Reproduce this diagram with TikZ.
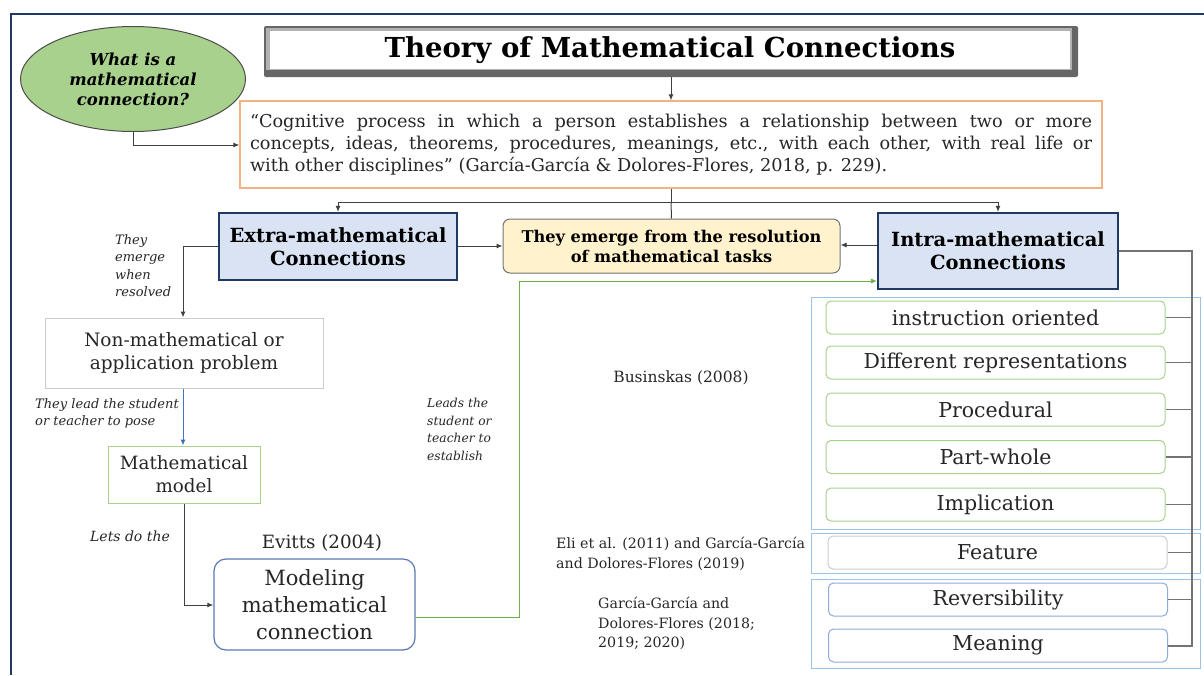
\documentclass[tikz,border=0pt]{standalone}
\usepackage{fontspec}
\setmainfont{DejaVu Serif}
\usetikzlibrary{shapes.geometric,arrows.meta}
\definecolor{navy}{HTML}{1F3864}
\definecolor{lblue}{HTML}{DAE3F3}
\definecolor{orng}{HTML}{F4B183}
\definecolor{grn}{HTML}{A9D18E}
\definecolor{grnline}{HTML}{70AD47}
\definecolor{ellfill}{HTML}{A9D18E}
\definecolor{yel}{HTML}{FFF2CC}
\definecolor{frameblue}{HTML}{9DC3E6}
\definecolor{boxblue}{HTML}{8FAADC}
\definecolor{modblue}{HTML}{5A78B0}
\definecolor{arrblue}{HTML}{4472C4}
\definecolor{txt}{HTML}{262626}
\tikzset{
  x=1pt, y=-1pt,
  tip/.style={-{Latex[length=6pt,width=5pt]}},
  conn/.style={draw=black!75, line width=1pt},
  bigbox/.style={draw=navy, line width=2.2pt, fill=lblue, align=center, inner sep=0pt,
    font=\fontsize{19.5}{23}\selectfont\bfseries},
  itembox/.style={rounded corners=5pt, line width=1pt, fill=white, minimum width=339pt,
    minimum height=33pt, inner sep=0pt, font=\fontsize{20.5}{24}\selectfont, text=txt},
  frm/.style={draw=frameblue, line width=1pt},
  lab/.style={font=\fontsize{13}{17.6}\selectfont\itshape, align=left, inner sep=0pt, anchor=north west, text=txt},
  cite/.style={font=\fontsize{14.2}{19.5}\selectfont, align=left, inner sep=0pt, text=txt},
  bus/.style={draw=black!55, line width=1.2pt}
}
\begin{document}
\begin{tikzpicture}
\useasboundingbox (0,0) rectangle (1204,675);
% outer frame
\draw[navy, line width=1.8pt] (1204,14) -- (11,14) -- (11,675);
% title
\fill[black!60, rounded corners=2pt] (264,26) rectangle (1078,77);
\fill[black!30] (266,28) rectangle (1072,70);
\node[fill=white, minimum width=800pt, minimum height=38pt, inner sep=0pt,
  font=\fontsize{27.5}{32}\selectfont\bfseries] (title) at (670,50) {Theory of Mathematical Connections};
\coordinate (tb) at (671,77);
% ellipse
\node[ellipse, draw=black!70, line width=1pt, fill=ellfill, minimum width=225pt, minimum height=105pt,
  inner sep=0pt, align=center, font=\fontsize{16.5}{20}\selectfont\bfseries\itshape] (q) at (133,79)
  {What is a\\mathematical\\connection?};
% quote
\node[draw=orng, line width=1.2pt, fill=white, minimum width=862pt, minimum height=87pt, inner sep=0pt,
  text width=842pt, align=justify, font=\fontsize{17.7}{22}\selectfont, text=txt] (def) at (671,144.5)
  {“Cognitive process in which a person establishes a relationship between two or more\linebreak
   concepts, ideas, theorems, procedures, meanings, etc., with each other, with real life or\linebreak
   with other disciplines” (García-García \& Dolores-Flores, 2018, p. 229).};
\draw[conn, tip] (tb) -- (def.north);
\draw[conn, tip] (q.south) |- (def.west |- 0,145);
% second level
\node[bigbox, minimum width=238pt, minimum height=67pt] (extra) at (338,246.5) {Extra-mathematical\\Connections};
\node[bigbox, minimum width=240pt, minimum height=76pt] (intra) at (998,251) {Intra-mathematical\\Connections};
\node[draw=black!55, line width=1pt, rounded corners=7pt, fill=yel, minimum width=337pt, minimum height=54pt,
  inner sep=0pt, align=center, font=\fontsize{16.2}{20}\selectfont\bfseries] (emerge) at (671.5,246)
  {They emerge from the resolution\\of mathematical tasks};
\coordinate (split) at (671,202);
\draw[conn] (def.south) -- (split);
\draw[conn] (split) -- (emerge.north);
\draw[conn, tip] (split) -| (extra.north);
\draw[conn, tip] (split) -| (intra.north);
\draw[conn, tip] (extra.east |- 0,246) -- (emerge.west |- 0,246);
\draw[conn, tip] (intra.west |- 0,245) -- (emerge.east |- 0,245);
% left branch
\node[draw=black!20, line width=1pt, minimum width=278pt, minimum height=70pt, inner sep=0pt, align=center,
  font=\fontsize{18.5}{23}\selectfont, text=txt] (prob) at (184,353) {Non-mathematical or\\application problem};
\node[draw=grn, line width=1pt, minimum width=152pt, minimum height=57pt, inner sep=0pt, align=center,
  font=\fontsize{18.3}{23}\selectfont, text=txt] (model) at (184,474.5) {Mathematical\\model};
\node[draw=modblue, line width=1.2pt, rounded corners=12pt, minimum width=201pt, minimum height=91pt, inner sep=0pt,
  align=center, font=\fontsize{21}{27}\selectfont, text=txt] (modeling) at (314.5,604.5) {Modeling\\mathematical\\connection};
\draw[conn, tip] (extra.west) -| (prob.north -| 183,0);
\draw[draw=arrblue, line width=1pt, -{Latex[length=6pt,width=5pt,fill=navy]}] (prob.south -| 183,0) -- (model.north -| 183,0);
\draw[conn, tip] (model.south -| 184,0) |- (modeling.west |- 0,605);
\coordinate (gup) at (519,281);
\draw[draw=grnline, line width=0.8pt, -{Latex[length=6pt,width=5pt]}] (modeling.east |- 0,617) -| (gup) -- (intra.west |- 0,281);
% labels
\node[lab] (l1) at (115,234) {They\\emerge\\when\\resolved};
\node[lab] (l2) at (35,398) {They lead the student\\or teacher to pose};
\node[lab, font=\fontsize{14}{17.6}\selectfont\itshape] (l3) at (90,531) {Lets do the};
\node[lab, font=\fontsize{12.3}{17.6}\selectfont\itshape] (l4) at (427,398) {Leads the\\student or\\teacher to\\establish};
\node[cite, font=\fontsize{18.3}{22}\selectfont] (evitts) at (322,543) {Evitts (2004)};
\node[cite, font=\fontsize{15.5}{20}\selectfont] (bus1) at (681,378) {Businskas (2008)};
\node[cite, anchor=north west] (eli) at (556,537) {Eli et al. (2011) and García-García\\and Dolores-Flores (2019)};
\node[cite, anchor=north west] (gg) at (598,597) {García-García and\\Dolores-Flores (2018;\\2019; 2020)};
% frames
\draw[frm] (811,297) rectangle (1200,529);
\draw[frm] (811,533) rectangle (1200,573);
\draw[frm] (811,579) rectangle (1200,668);
% items
\node[itembox, draw=grn] (i1) at (995.5,317.5) {instruction oriented};
\node[itembox, draw=grn] (i2) at (995.5,362.5) {Different representations};
\node[itembox, draw=grn] (i3) at (995.5,409.5) {Procedural};
\node[itembox, draw=grn] (i4) at (995.5,457) {Part-whole};
\node[itembox, draw=grn] (i5) at (995.5,504.5) {Implication};
\node[itembox, draw=black!20] (i6) at (997.5,552.5) {Feature};
\node[itembox, draw=boxblue] (i7) at (998,599.5) {Reversibility};
\node[itembox, draw=boxblue] (i8) at (998,645.5) {Meaning};
% bus
\coordinate (bt) at (1192,251);
\coordinate (bb) at (1192,646);
\draw[bus] (intra.east |- bt) -- (bt) -- (bb) -- (i8.east |- bb);
\foreach \n in {i1,i2,i3,i4,i5,i6,i7} \draw[bus] (\n.east) -- (\n.east -| bt);
\end{tikzpicture}
\end{document}
